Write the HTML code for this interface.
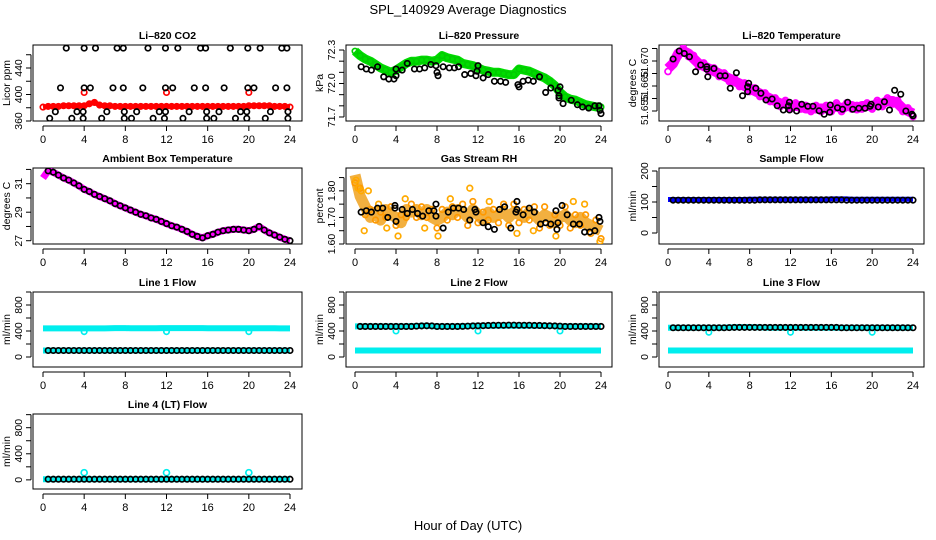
<!DOCTYPE html>
<html><head><meta charset="utf-8">
<style>
html,body{margin:0;padding:0;background:#fff;}
svg{display:block;font-family:"Liberation Sans",Arial,sans-serif;}
</style></head>
<body>
<svg id="chart" width="936" height="540" viewBox="0 0 936 540">
<text x="468" y="14" text-anchor="middle" font-size="13">SPL_140929  Average Diagnostics</text>
<text x="468" y="530" text-anchor="middle" font-size="13">Hour of Day (UTC)</text>
</svg>
<script>
// ---------- data ----------
const xTicks = [0,4,8,12,16,20,24];
const co2Red = [381,382,382,382,383,383,383,383,383,386,388,384,383,383,382,382,382,382,382,382,382,382,382,382,382,382,382,382,382,382,382,382,382,382,382,382,382,382,382,382,383,383,383,383,383,382,382,382,381];
const co2RedDipHours = [4,12,20];
const co2RedDipVals = [403,403,403];
const co2BlackHours = [2.26,4.0,5.1,7.2,7.8,10.2,11.9,13.1,15.3,15.8,18.2,19.9,21.1,23.2,23.7, 1.7,4.0,4.6,6.8,7.8,9.7,11.9,12.6,14.7,15.8,17.6,19.9,20.5,22.6,23.7, 1.2,3.3,3.9,6.2,7.9,9.1,11.3,11.9,14.2,15.9,17.1,19.2,19.8,22.1,23.8, 0.65,2.8,3.9,5.7,7.9,8.6,10.7,11.8,13.6,15.9,16.6,18.7,19.8,21.6,23.8];
const co2BlackVals = [470,470,470,470,470,470,470,470,470,470,470,470,470,470,470, 410,410,410,410,410,410,410,410,410,410,410,410,410,410,410, 374,374,374,374,374,374,374,374,374,374,374,374,374,374,374, 364,364,364,364,364,364,364,364,364,364,364,364,364,364,364];
const presGreen = [72.29,72.25,72.22,72.2,72.17,72.14,72.12,72.1,72.12,72.15,72.18,72.2,72.2,72.21,72.21,72.2,72.21,72.25,72.23,72.22,72.21,72.18,72.17,72.16,72.14,72.12,72.11,72.1,72.1,72.09,72.08,72.08,72.13,72.12,72.11,72.09,72.07,72.05,72.02,71.98,71.92,71.88,71.86,71.85,71.83,71.81,71.8,71.79,71.79];
const presBlackHours = [0.6,1.1,1.6,2.2,2.8,3.3,3.8,4.0,4.0,4.6,5.1,5.8,6.3,6.8,7.4,7.9,8.0,8.1,8.6,9.2,9.7,10.1,10.7,11.3,11.8,11.9,12.0,12.5,13.0,13.6,14.2,14.7,15.9,16.0,16.4,16.9,17.4,18.0,18.6,19.1,19.8,19.9,19.9,20.0,20.3,21.1,21.7,22.2,22.8,23.4,23.8,23.9,24.0];
const presBlackVals = [72.15,72.13,72.12,72.15,72.06,72.04,72.04,72.07,72.13,72.12,72.18,72.13,72.13,72.14,72.17,72.16,72.1,72.07,72.15,72.14,72.14,72.15,72.08,72.09,72.07,72.11,72.16,72.05,72.08,72.02,72.02,72.01,71.99,71.97,72.02,72.03,72.02,72.06,71.92,71.96,71.94,71.87,71.89,71.97,71.82,71.85,71.81,71.79,71.78,71.8,71.8,71.76,71.73];
const tempMagenta = [51.667,51.669,51.673,51.674,51.673,51.671,51.669,51.668,51.667,51.666,51.665,51.664,51.663,51.662,51.661,51.660,51.659,51.658,51.657,51.656,51.655,51.654,51.653,51.653,51.652,51.652,51.652,51.651,51.651,51.651,51.651,51.651,51.651,51.652,51.651,51.652,51.652,51.651,51.652,51.652,51.652,51.653,51.653,51.654,51.654,51.653,51.651,51.650,51.649];
const tempBlackHours = [0.5,1.1,1.6,2.1,2.7,3.2,3.8,3.8,3.9,4.5,5.1,5.6,6.1,6.7,7.3,7.8,7.8,7.9,8.6,9.1,9.6,10.2,10.7,11.3,11.8,11.9,11.9,12.6,13.1,13.7,14.2,14.8,15.3,15.85,15.9,16.6,17.1,17.6,18.1,18.7,19.3,19.8,19.9,20.6,21.2,21.7,22.2,22.8,23.3,23.9,24.0];
const tempBlackVals = [51.6708,51.674,51.673,51.6717,51.6657,51.6684,51.6677,51.6667,51.6637,51.667,51.6641,51.6641,51.6591,51.6653,51.6561,51.6597,51.6577,51.6611,51.6591,51.6571,51.6544,51.6548,51.6521,51.6504,51.6521,51.6535,51.6504,51.65,51.6527,51.6519,51.6519,51.6501,51.6487,51.6495,51.6524,51.6513,51.6507,51.6535,51.6507,51.6511,51.6511,51.6519,51.6527,51.6516,51.6537,51.6504,51.6583,51.6567,51.65,51.6487,51.6481];
const ambMagenta = [31.4,31.9,31.8,31.6,31.4,31.25,31.05,30.85,30.6,30.45,30.25,30.1,29.95,29.8,29.6,29.45,29.3,29.15,29.0,28.85,28.75,28.6,28.5,28.35,28.2,28.05,27.95,27.8,27.65,27.45,27.3,27.2,27.35,27.45,27.6,27.7,27.75,27.8,27.8,27.75,27.7,27.8,28.0,27.75,27.55,27.4,27.25,27.1,27.0];
const rhOrange = [1.86,1.78,1.74,1.70,1.72,1.69,1.73,1.71,1.70,1.68,1.73,1.72,1.73,1.71,1.73,1.70,1.69,1.70,1.72,1.71,1.73,1.72,1.70,1.73,1.71,1.69,1.72,1.70,1.71,1.72,1.70,1.72,1.71,1.70,1.72,1.71,1.69,1.71,1.70,1.68,1.70,1.71,1.69,1.68,1.70,1.68,1.67,1.66,1.65];
const rhOutHours = [0.1,0.3,0.6,1.3,2.3,4.9,4.2,11.2,15.8,3.1,6.8,9.3,13.1,17.4,21.3,23.9,0.9,8.1,19.6,22.4];
const rhOutVals = [1.84,1.81,1.80,1.80,1.75,1.77,1.63,1.81,1.64,1.66,1.66,1.77,1.76,1.65,1.76,1.61,1.65,1.63,1.63,1.75];
const rhBlackHours = [0.6,1.1,1.6,2.2,2.7,3.2,3.9,3.9,4.0,4.6,5.1,5.6,6.1,6.6,7.2,7.7,7.9,7.9,8.6,9.1,9.6,10.1,10.6,11.2,11.7,11.8,12.5,13.0,13.6,14.1,14.6,15.2,15.7,15.8,15.8,16.4,17.0,17.5,18.1,18.6,19.1,19.6,19.7,19.8,20.2,20.7,21.3,21.9,22.4,22.9,23.4,23.8,23.9];
const rhBlackVals = [1.72,1.725,1.72,1.735,1.735,1.70,1.745,1.735,1.685,1.73,1.715,1.73,1.715,1.705,1.725,1.725,1.75,1.705,1.66,1.72,1.735,1.735,1.73,1.69,1.73,1.72,1.68,1.665,1.655,1.73,1.74,1.66,1.72,1.76,1.73,1.71,1.735,1.72,1.675,1.68,1.675,1.725,1.655,1.68,1.745,1.71,1.675,1.675,1.645,1.645,1.65,1.70,1.685];
const sampleBlue = [108,108,108,108,108,108,108,108,108,108,108,108,108,108,108,108,109,109,109,109,109,109,109,109,109,109,109,109,109,109,109,109,110,110,110,110,109,109,109,109,109,109,109,109,109,109,109,109,109];
const sampleBlack = [106,106,106,106,106,106,106,106,106,106,106,106,106,106,106,106,106,107,107,107,107,107,107,107,107,107,107,107,107,107,107,107,107,107,106,106,106,106,106,106,106,106,106,106,106,106,106,106];
const line1CyanHigh = [440,440,440,440,440,440,440,440,440,440,440,440,440,442,445,445,445,442,442,442,442,442,442,445,445,445,445,445,445,445,445,445,442,442,442,442,442,442,442,442,442,442,442,442,442,442,440,440,440];
const line1CyanLow = [100,100,100,100,100,100,100,100,100,100,100,100,100,100,100,100,100,100,100,100,100,100,100,100,100,100,100,100,100,100,100,100,100,100,100,100,100,100,100,100,100,100,100,100,100,100,100,100,100];
const line1Black = [100,100,100,100,100,100,100,100,100,100,100,100,100,100,100,100,100,100,100,100,100,100,100,100,100,100,100,100,100,100,100,100,100,100,100,100,100,100,100,100,100,100,100,100,100,100,100,100];
const line1DipVals = [390,390,390];
const line2CyanHigh = [470,470,470,470,470,470,470,470,470,470,470,475,475,480,480,475,470,470,470,470,470,475,475,480,480,480,480,480,480,480,480,480,480,480,480,480,480,478,478,475,470,470,470,470,470,470,470,470,470];
const line2CyanLow = line1CyanLow.slice();
const line2Black = [470,470,470,470,470,470,470,470,470,470,470,475,478,480,478,470,470,470,470,470,472,475,478,480,482,485,487,488,488,490,490,488,488,488,485,485,482,480,478,475,470,470,470,470,470,470,470,470];
const line2DipVals = [400,400,400];
const line3CyanHigh = [450,450,450,450,450,450,450,450,450,450,450,452,455,458,460,460,460,458,455,452,450,450,450,450,450,450,450,450,450,450,450,450,450,450,450,450,450,450,450,450,450,450,450,450,450,450,450,450,450];
const line3CyanLow = line1CyanLow.slice();
const line3Black = [450,450,450,450,450,450,450,450,450,450,450,452,455,455,455,455,455,455,455,455,455,455,455,455,455,455,455,455,455,455,455,455,455,450,450,450,450,450,450,450,450,450,450,450,450,450,450,450];
const line3DipVals = [380,380,380];
const line4Cyan = [10,10,10,10,10,10,10,10,10,10,10,10,10,10,10,10,10,10,10,10,10,10,10,10,10,10,10,10,10,10,10,10,10,10,10,10,10,10,10,10,10,10,10,10,10,10,10,10,10];
const line4Black = [10,10,10,10,10,10,10,10,10,10,10,10,10,10,10,10,10,10,10,10,10,10,10,10,10,10,10,10,10,10,10,10,10,10,10,10,10,10,10,10,10,10,10,10,10,10,10,10];
const line4SpikeVals = [110,110,110];
const dipHours = [4,12,20];

// ---------- layout ----------
const NS = "http://www.w3.org/2000/svg";
const svg = document.getElementById("chart");
const cols = [{l:33,r:302,x0:43,x24:290},{l:346,r:612,x0:355,x24:601},{l:659,r:924,x0:668,x24:913}];
const rows = [{t:45,b:121},{t:168,b:244},{t:292,b:367},{t:414,b:489}];

function mk(tag, attrs, parent){
  const e = document.createElementNS(NS, tag);
  for (const k in attrs) e.setAttribute(k, attrs[k]);
  (parent||svg).appendChild(e);
  return e;
}
function halfHours(n, start){ const a=[]; for(let i=0;i<n;i++) a.push(start + i*0.5); return a; }

function panel(p){
  const c = cols[p.col], r = rows[p.row];
  const g = mk("g", {});
  
  
  const sx = h => c.x0 + (c.x24 - c.x0) * h / 24;
  const sy = v => r.b - (v - p.lo) / (p.hi - p.lo) * (r.b - r.t);
  const t = mk("text", {x:(c.l+c.r)/2, y:r.t-6, "text-anchor":"middle", "font-size":"10.5", "font-weight":"bold"}, g);
  t.textContent = p.title;
  
  
  const box = mk("rect", {x:c.l, y:r.t, width:c.r-c.l, height:r.b-r.t, fill:"none", stroke:"#000", "stroke-width":"1"}, g);
  
  
  const xa = mk("g", {}, g);
  
  
  mk("line", {x1:sx(0), x2:sx(24), y1:r.b+5, y2:r.b+5, stroke:"#000"}, xa);
  xTicks.forEach(h => {
    mk("line", {x1:sx(h), x2:sx(h), y1:r.b+5, y2:r.b+10, stroke:"#000"}, xa);
    const lt = mk("text", {x:sx(h), y:r.b+22, "text-anchor":"middle", "font-size":"11"}, xa);
    lt.textContent = h;
    
    
  });
  const ya = mk("g", {}, g);
  
  
  const ax = c.l - 2;
  mk("line", {x1:ax, x2:ax, y1:sy(p.ticks[0]), y2:sy(p.ticks[p.ticks.length-1]), stroke:"#000"}, ya);
  p.ticks.forEach(v => mk("line", {x1:ax-5, x2:ax, y1:sy(v), y2:sy(v), stroke:"#000"}, ya));
  p.labels.forEach((lb, i) => {
    const y = sy(p.labelVals[i]);
    const tx = mk("text", {x:ax-9, y:y, "text-anchor":"middle", "font-size":p.lfs||"10.5", transform:`rotate(-90 ${ax-9} ${y})`}, ya);
    tx.textContent = lb;
    
    
  });
  const yt = mk("text", {x:c.l-23, y:(r.t+r.b)/2, "text-anchor":"middle", "font-size":"10.5", transform:`rotate(-90 ${c.l-23} ${(r.t+r.b)/2})`}, g);
  yt.textContent = p.ylab;
  
  
  const clipId = "clip"+p.name;
  const cp = mk("clipPath", {id:clipId}, g);
  mk("rect", {x:c.l, y:r.t, width:c.r-c.l, height:r.b-r.t}, cp);
  const plot = mk("g", {"clip-path":`url(#${clipId})`}, g);
  return {sx, sy, plot};
}

function band(P, hours, vals, color, w, name){
  const pts = hours.map((h,i)=>P.sx(h).toFixed(1)+","+P.sy(vals[i]).toFixed(1)).join(" ");
  const pl = mk("polyline", {points:pts, fill:"none", stroke:color, "stroke-width":w, "stroke-linejoin":"round", "stroke-linecap":"butt"}, P.plot);
  
  
}
function points(P, hours, vals, color, name, r){
  const g = mk("g", {}, P.plot);
  
  
  hours.forEach((h,i)=>{
    const ci = mk("circle", {cx:P.sx(h), cy:P.sy(vals[i]), r:r||2.7, fill:"none", stroke:color, "stroke-width":"1.7"}, g);
    
    
  });
}

const H49 = halfHours(49, 0);
const H48 = halfHours(48, 0.5);

let P = panel({name:"co2-panel", title:"Li\u2013820 CO2", col:0, row:0, lo:360, hi:474.7, ticks:[360,380,400,420,440,460], labels:["360","400","440"], labelVals:[360,400,440], ylab:"Licor ppm"});
band(P, H49, co2Red, "#ff0000", 5, "co2-minute-series");
points(P, H49, co2Red, "#ff0000", "co2-minute-points");
points(P, co2RedDipHours, co2RedDipVals, "#ff0000", "co2-red-outliers");
points(P, co2BlackHours, co2BlackVals, "#000", "co2-average-points");

P = panel({name:"pressure-panel", title:"Li\u2013820 Pressure", col:1, row:0, lo:71.664, hi:72.345, ticks:[71.7,71.8,71.9,72.0,72.1,72.2,72.3], labels:["71.7","72.0","72.3"], labelVals:[71.7,72.0,72.3], ylab:"kPa"});
band(P, H49, presGreen, "#00dd00", 9, "pressure-minute-series");
points(P, H49, presGreen, "#00cc00", "pressure-minute-points");
points(P, presBlackHours, presBlackVals, "#000", "pressure-average-points");

P = panel({name:"temperature-panel", title:"Li\u2013820 Temperature", col:2, row:0, lo:51.646, hi:51.6764, lfs:"10", ticks:[51.650,51.655,51.660,51.665,51.670,51.675], labels:["51.655","51.665","51.670"], labelVals:[51.6505,51.6598,51.6693], ylab:"degrees C"});
band(P, H49, tempMagenta, "#ff00ff", 10, "temperature-minute-series");
points(P, H49, tempMagenta.map((v,i)=>v+(i%2?0.0012:-0.0012)), "#ff00ff", "temperature-minute-points", 3);
points(P, tempBlackHours, tempBlackVals, "#000", "temperature-average-points");

P = panel({name:"ambient-panel", title:"Ambient Box Temperature", col:0, row:1, lo:26.77, hi:32.1, ticks:[27,28,29,30,31,32], labels:["27","29","31"], labelVals:[27,29,31], ylab:"degrees C"});
band(P, H49, ambMagenta, "#ff00ff", 7, "ambient-minute-series");
points(P, H48, ambMagenta.slice(1), "#000", "ambient-average-points");

P = panel({name:"rh-panel", title:"Gas Stream RH", col:1, row:1, lo:1.60, hi:1.886, ticks:[1.60,1.65,1.70,1.75,1.80,1.85], labels:["1.60","1.70","1.80"], labelVals:[1.60,1.70,1.80], ylab:"percent"});
band(P, H49, rhOrange, "#f2b040", 11, "rh-minute-series");
points(P, H49, rhOrange.map((v,i)=>v+(i%2?0.03:-0.03)), "#ff9900", "rh-minute-points", 2.8);
points(P, rhOutHours, rhOutVals, "#ffaa00", "rh-outlier-points", 2.8);
points(P, rhBlackHours, rhBlackVals, "#000", "rh-average-points");

P = panel({name:"sample-flow-panel", title:"Sample Flow", col:2, row:1, lo:-35.5, hi:209.7, ticks:[0,50,100,150,200], labels:["0","100","200"], labelVals:[0,100,200], ylab:"ml/min"});
band(P, H49, sampleBlue, "#0000ff", 5, "sample-flow-minute-series");
points(P, H48, sampleBlack, "#000", "sample-flow-average-points");

const flowTicks = [0,200,400,600,800,1000];
P = panel({name:"line1-flow-panel", title:"Line 1 Flow", col:0, row:2, lo:-154, hi:1000, ticks:flowTicks, labels:["0","400","800"], labelVals:[0,400,800], ylab:"ml/min"});
band(P, H49, line1CyanHigh, "#00eeee", 6, "line1-high-series");
band(P, H49, line1CyanLow, "#00eeee", 6, "line1-low-series");
points(P, dipHours, line1DipVals, "#00eeee", "line1-dips");
points(P, H48, line1Black, "#000", "line1-average-points");

P = panel({name:"line2-flow-panel", title:"Line 2 Flow", col:1, row:2, lo:-154, hi:1000, ticks:flowTicks, labels:["0","400","800"], labelVals:[0,400,800], ylab:"ml/min"});
band(P, H49, line2CyanHigh, "#00eeee", 6, "line2-high-series");
band(P, H49, line2CyanLow, "#00eeee", 6, "line2-low-series");
points(P, dipHours, line2DipVals, "#00eeee", "line2-dips");
points(P, H48, line2Black, "#000", "line2-average-points");

P = panel({name:"line3-flow-panel", title:"Line 3 Flow", col:2, row:2, lo:-154, hi:1000, ticks:flowTicks, labels:["0","400","800"], labelVals:[0,400,800], ylab:"ml/min"});
band(P, H49, line3CyanHigh, "#00eeee", 6, "line3-high-series");
band(P, H49, line3CyanLow, "#00eeee", 6, "line3-low-series");
points(P, dipHours, line3DipVals, "#00eeee", "line3-dips");
points(P, H48, line3Black, "#000", "line3-average-points");

P = panel({name:"line4-flow-panel", title:"Line 4 (LT) Flow", col:0, row:3, lo:-140, hi:1010, ticks:flowTicks, labels:["0","400","800"], labelVals:[0,400,800], ylab:"ml/min"});
band(P, H49, line4Cyan, "#00eeee", 6, "line4-series");
points(P, dipHours, line4SpikeVals, "#00eeee", "line4-spikes", 3);
points(P, H48, line4Black, "#000", "line4-average-points");
</script>
</body></html>
